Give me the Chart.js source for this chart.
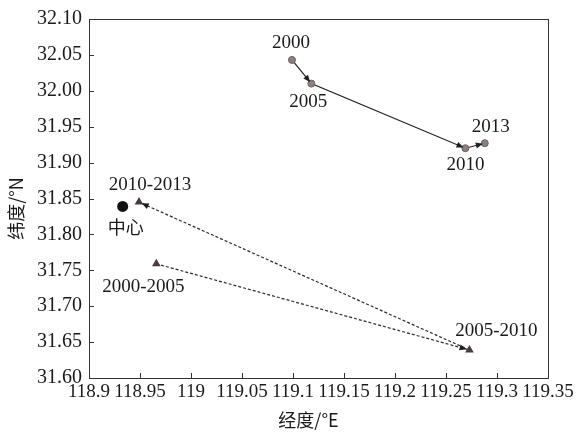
<!DOCTYPE html>
<html>
<head>
<meta charset="utf-8">
<script src="https://cdn.jsdelivr.net/npm/chart.js@4/dist/chart.umd.min.js"></script>
<style>
  html, body { margin: 0; padding: 0; background: #fff; }
  #wrap { width: 584px; height: 432px; }
</style>
</head>
<body>
<div id="wrap"><canvas id="c" width="584" height="432"></canvas></div>
<script>
// Axis ticks
const xTickValues = [118.9, 118.95, 119, 119.05, 119.1, 119.15, 119.2, 119.25, 119.3, 119.35];
const xTickLabels = ['118.9', '118.95', '119', '119.05', '119.1', '119.15', '119.2', '119.25', '119.3', '119.35'];
const yTickValues = [31.6, 31.65, 31.7, 31.75, 31.8, 31.85, 31.9, 31.95, 32.0, 32.05, 32.1];
const yTickLabels = ['31.60', '31.65', '31.70', '31.75', '31.80', '31.85', '31.90', '31.95', '32.00', '32.05', '32.10'];
const xTitle = '经度/°E';
const yTitle = '纬度/°N';

// Yearly gravity centres
const yearLabels = ['2000', '2005', '2010', '2013'];
const yearLon = [119.099, 119.118, 119.269, 119.288];
const yearLat = [32.043, 32.010, 31.920, 31.927];

// Period centres (triangles)
const periodLabels = ['2000-2005', '2005-2010', '2010-2013'];
const periodLon = [118.966, 119.273, 118.949];
const periodLat = [31.759, 31.639, 31.845];

// Centre
const centerLabels = ['中心'];
const centerLon = [118.933];
const centerLat = [31.839];

const SERIF = '"Liberation Serif", "DejaVu Serif", serif';
const CJK = '"Noto Sans CJK SC", "Liberation Serif", sans-serif';

function pts(lon, lat) { return lon.map((x, i) => ({ x: x, y: lat[i] })); }

// text offsets for point labels (px)
const yearOffsets = [[-1, -17], [-3, 18], [0, 17], [6, -16]];
const periodOffsets = [[-13, 23], [27, -19], [11, -17]];
const centerOffsets = [[3, 21]];

function drawArrowHead(ctx, x0, y0, x1, y1, len, half) {
  const a = Math.atan2(y1 - y0, x1 - x0);
  ctx.beginPath();
  ctx.moveTo(x1, y1);
  ctx.lineTo(x1 - len * Math.cos(a) + half * Math.sin(a), y1 - len * Math.sin(a) - half * Math.cos(a));
  ctx.lineTo(x1 - len * Math.cos(a) - half * Math.sin(a), y1 - len * Math.sin(a) + half * Math.cos(a));
  ctx.closePath();
  ctx.fill();
}

const decor = {
  id: 'decor',
  beforeDraw(chart) {
    const ctx = chart.ctx;
    ctx.save();
    ctx.fillStyle = '#fff';
    ctx.fillRect(0, 0, chart.width, chart.height);
    ctx.restore();
  },
  afterDatasetsDraw(chart) {
    const ctx = chart.ctx;
    const a = chart.chartArea;
    const xs = chart.scales.x, ys = chart.scales.y;
    ctx.save();
    // frame
    ctx.strokeStyle = '#333';
    ctx.lineWidth = 1;
    ctx.strokeRect(Math.round(a.left) + 0.5, Math.round(a.top) + 0.5,
                   Math.round(a.right - a.left), Math.round(a.bottom - a.top));
    // inward tick marks
    ctx.beginPath();
    xTickValues.forEach(v => {
      const px = Math.round(xs.getPixelForValue(v)) + 0.5;
      ctx.moveTo(px, a.bottom);
      ctx.lineTo(px, a.bottom - 5);
    });
    yTickValues.forEach(v => {
      const py = Math.round(ys.getPixelForValue(v)) + 0.5;
      ctx.moveTo(a.left, py);
      ctx.lineTo(a.left + 5, py);
    });
    ctx.stroke();

    // arrow heads
    ctx.fillStyle = '#1e1e1e';
    const m0 = chart.getDatasetMeta(0).data;
    for (let i = 1; i < m0.length; i++) {
      const p = m0[i - 1], q = m0[i];
      const ang = Math.atan2(q.y - p.y, q.x - p.x);
      drawArrowHead(ctx, p.x, p.y, q.x - 2 * Math.cos(ang), q.y - 2 * Math.sin(ang), 7, 3);
    }
    const m1 = chart.getDatasetMeta(1).data;
    for (let i = 1; i < m1.length; i++) {
      const p = m1[i - 1], q = m1[i];
      const ang = Math.atan2(q.y - p.y, q.x - p.x);
      drawArrowHead(ctx, p.x, p.y, q.x - 3 * Math.cos(ang), q.y - 3 * Math.sin(ang), 7, 3);
    }

    // point labels
    ctx.fillStyle = '#1a1a1a';
    ctx.textAlign = 'center';
    ctx.textBaseline = 'middle';
    ctx.font = '19px ' + SERIF;
    m0.forEach((el, i) => ctx.fillText(yearLabels[i], el.x + yearOffsets[i][0], el.y + yearOffsets[i][1]));
    m1.forEach((el, i) => ctx.fillText(periodLabels[i], el.x + periodOffsets[i][0], el.y + periodOffsets[i][1]));
    ctx.font = '18px ' + CJK;
    chart.getDatasetMeta(2).data.forEach((el, i) =>
      ctx.fillText(centerLabels[i], el.x + centerOffsets[i][0], el.y + centerOffsets[i][1]));

    // axis titles
    ctx.font = '18px ' + CJK;
    ctx.fillText(xTitle, (a.left + a.right) / 2 - 10, 420);
    ctx.save();
    ctx.translate(16, (a.top + a.bottom) / 2 + 10);
    ctx.rotate(-Math.PI / 2);
    ctx.fillText(yTitle, 0, 0);
    ctx.restore();
    ctx.restore();
  }
};

new Chart(document.getElementById('c'), {
  type: 'scatter',
  data: {
    datasets: [
      {
        label: 'years',
        data: pts(yearLon, yearLat),
        showLine: true,
        borderColor: '#1e1e1e',
        borderWidth: 1.2,
        pointStyle: 'circle',
        pointRadius: 3.5,
        pointBackgroundColor: '#8c7f80',
        pointBorderColor: '#6d6264',
        pointBorderWidth: 1
      },
      {
        label: 'periods',
        data: pts(periodLon, periodLat),
        showLine: true,
        borderColor: '#2a2a2a',
        borderWidth: 1.2,
        borderDash: [3, 2],
        pointStyle: 'triangle',
        pointRadius: 5,
        pointBackgroundColor: '#4a3c3c',
        pointBorderColor: '#4a3c3c',
        pointBorderWidth: 0
      },
      {
        label: 'center',
        data: pts(centerLon, centerLat),
        pointStyle: 'circle',
        pointRadius: 5.5,
        pointBackgroundColor: '#111',
        pointBorderColor: '#111',
        pointBorderWidth: 0
      }
    ]
  },
  options: {
    responsive: false,
    animation: false,
    devicePixelRatio: 1,
    layout: { padding: { top: 17, right: 36, left: 0, bottom: 0 } },
    plugins: { legend: { display: false }, tooltip: { enabled: false } },
    scales: {
      x: {
        type: 'linear',
        min: 118.9,
        max: 119.35,
        afterBuildTicks: s => { s.ticks = xTickValues.map(v => ({ value: v })); },
        afterFit: s => { s.height = 54; },
        grid: { display: false, drawTicks: false },
        border: { display: false },
        ticks: {
          autoSkip: false,
          maxRotation: 0,
          padding: 3,
          color: '#1a1a1a',
          font: { family: SERIF, size: 19 },
          callback: (v, i) => xTickLabels[i]
        }
      },
      y: {
        type: 'linear',
        min: 31.6,
        max: 32.1,
        afterBuildTicks: s => { s.ticks = yTickValues.map(v => ({ value: v })); },
        afterFit: s => { s.width = 89; },
        grid: { display: false, drawTicks: false },
        border: { display: false },
        ticks: {
          autoSkip: false,
          padding: 7,
          color: '#1a1a1a',
          font: { family: SERIF, size: 20 },
          callback: (v, i) => yTickLabels[i]
        }
      }
    }
  },
  plugins: [decor]
});
</script>
</body>
</html>
